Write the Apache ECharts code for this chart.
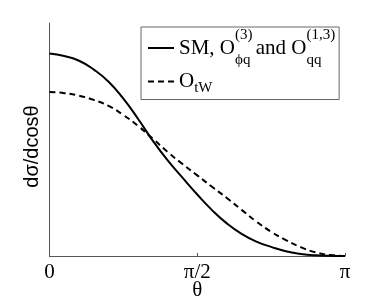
<!DOCTYPE html>
<html>
<head>
<meta charset="utf-8">
<script src="https://cdn.jsdelivr.net/npm/echarts@6/dist/echarts.min.js"></script>
<style>html,body{margin:0;padding:0;background:#fff;}#c{width:382px;height:302px;}</style>
</head>
<body>
<div id="c"></div>
<script>
// theta in units of pi
var thetaOverPi = [0, 0.05, 0.10, 0.15, 0.20, 0.25, 0.30, 0.35, 0.40, 0.45, 0.50, 0.55, 0.60, 0.65, 0.70, 0.75, 0.80, 0.85, 0.90, 0.95, 1.00];
var smValues  = [0.869, 0.858, 0.838, 0.800, 0.748, 0.675, 0.588, 0.494, 0.410, 0.336, 0.264, 0.197, 0.140, 0.095, 0.062, 0.039, 0.020, 0.009, 0.003, 0.001, 0];
var otwValues = [0.704, 0.699, 0.688, 0.670, 0.644, 0.605, 0.558, 0.503, 0.446, 0.395, 0.346, 0.297, 0.249, 0.198, 0.148, 0.104, 0.068, 0.038, 0.016, 0.004, 0];
var tickValues = [0, 0.5, 1];
var tickLabels = ['0', 'π/2', 'π'];
var yLabel = 'dσ/dcosθ';
var xLabel = 'θ';
var seriesNames = ['SM, O(3)ϕq and O(1,3)qq', 'OtW'];
var legendRich = [
  '{a|SM, O}{supz|(3)}{subA|ϕq}{a| and O}{subz|qq}{supA|(1,3)}',
  '{b|O}{subB|tW}'
];

function pairs(xs, ys) { return xs.map(function (x, i) { return [x, ys[i]]; }); }

var chart = echarts.init(document.getElementById('c'), null, {renderer: 'canvas'});
var serif = 'Liberation Serif';
var small = 15;
chart.setOption({
  animation: false,
  backgroundColor: '#fff',
  grid: {left: 49.5, right: 37, top: 23, bottom: 46, outerBoundsMode: 'none', containLabel: false},
  graphic: [{
    type: 'text', x: 32.5, y: 146.5, rotation: Math.PI / 2,
    style: {text: yLabel, fontFamily: 'Liberation Sans', fontSize: 20, fill: '#000', align: 'center', verticalAlign: 'middle'}
  }],
  xAxis: {
    type: 'value', min: 0, max: 1, interval: 0.5,
    name: xLabel, nameLocation: 'middle', nameGap: 24, nameMoveOverlap: false,
    nameTextStyle: {fontFamily: serif, fontSize: 21, color: '#000'},
    axisLine: {show: true, lineStyle: {color: '#555', width: 1}},
    axisTick: {show: true, inside: true, length: 3, lineStyle: {color: '#555'}},
    splitLine: {show: false},
    axisLabel: {
      margin: 6, fontFamily: serif, fontSize: 21, color: '#000',
      formatter: function (v) { var i = tickValues.indexOf(v); return i >= 0 ? tickLabels[i] : ''; }
    }
  },
  yAxis: {
    type: 'value', min: 0, max: 1,
    axisLine: {show: true, lineStyle: {color: '#555', width: 1}},
    axisTick: {show: false},
    axisLabel: {show: false},
    splitLine: {show: false}
  },
  legend: {
    orient: 'vertical', left: 141, top: 27,
    padding: [1, 4, 4, 6], itemGap: 3,
    itemWidth: 26, itemHeight: 14,
    backgroundColor: '#fff', borderColor: '#666', borderWidth: 1,
    itemStyle: {color: 'transparent', borderColor: 'transparent', borderWidth: 0},
    data: seriesNames,
    formatter: function (name) { return legendRich[seriesNames.indexOf(name)]; },
    textStyle: {
      fontFamily: serif, fontSize: 21, color: '#000',
      rich: {
        a: {fontFamily: serif, fontSize: 21, color: '#000', lineHeight: 40},
        b: {fontFamily: serif, fontSize: 21, color: '#000', lineHeight: 28},
        supz: {fontFamily: serif, fontSize: small, color: '#000', verticalAlign: 'top', width: 0},
        supA: {fontFamily: serif, fontSize: small, color: '#000', verticalAlign: 'top'},
        subA: {fontFamily: serif, fontSize: small, color: '#000', verticalAlign: 'bottom'},
        subz: {fontFamily: serif, fontSize: small, color: '#000', verticalAlign: 'bottom', width: 0},
        subB: {fontFamily: serif, fontSize: small, color: '#000', verticalAlign: 'bottom'}
      }
    }
  },
  series: [
    {
      name: seriesNames[0], type: 'line', smooth: true, symbol: 'none',
      data: pairs(thetaOverPi, smValues),
      lineStyle: {color: '#000', width: 2, type: 'solid'},
      itemStyle: {color: '#000'}
    },
    {
      name: seriesNames[1], type: 'line', smooth: true, symbol: 'none',
      data: pairs(thetaOverPi, otwValues),
      lineStyle: {color: '#000', width: 2, type: [6, 4]},
      itemStyle: {color: '#000'}
    }
  ]
});
</script>
</body>
</html>
